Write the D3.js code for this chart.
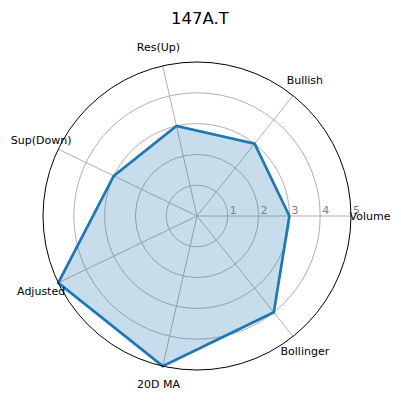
<!DOCTYPE html>
<html>
<head>
<meta charset="utf-8">
<script src="https://cdn.jsdelivr.net/npm/d3@7"></script>
<style>
  body { margin: 0; background: #fff; }
  text { font-family: "DejaVu Sans", sans-serif; }
</style>
</head>
<body>
<svg id="chart" width="401" height="401"></svg>
<script>
// values
const title = "147A.T";
const categories = ["Volume", "Bullish", "Res(Up)", "Sup(Down)", "Adjusted", "20D MA", "Bollinger"];
const scores = [3, 3, 3, 3, 5, 5, 4];
const radialTicks = [1, 2, 3, 4, 5];

const cx = 197, cy = 216, R = 154;
const svg = d3.select("#chart");

const r = d3.scaleLinear().domain([0, 5]).range([0, R]);
const angle = d3.scaleLinear().domain([0, categories.length]).range([0, 2 * Math.PI]);

// math angle (counter-clockwise from east) -> screen xy
function px(a, v) { return cx + r(v) * Math.cos(a); }
function py(a, v) { return cy - r(v) * Math.sin(a); }

svg.append("text")
  .attr("x", 200).attr("y", 24)
  .attr("text-anchor", "middle")
  .style("font-size", "16.5px")
  .text(title);

const g = svg.append("g");

// grid circles
g.selectAll("circle.grid")
  .data(radialTicks.slice(0, -1))
  .enter().append("circle")
  .attr("cx", cx).attr("cy", cy)
  .attr("r", d => r(d))
  .attr("fill", "none")
  .attr("stroke", "#b0b0b0")
  .attr("stroke-width", 1);

// spokes
g.selectAll("line.spoke")
  .data(categories)
  .enter().append("line")
  .attr("x1", cx).attr("y1", cy)
  .attr("x2", (d, i) => px(angle(i), 5))
  .attr("y2", (d, i) => py(angle(i), 5))
  .attr("stroke", "#b0b0b0")
  .attr("stroke-width", 1);

// data polygon
const pts = scores.map((v, i) => [px(angle(i), v), py(angle(i), v)]);
const line = d3.line().curve(d3.curveLinearClosed);

g.append("path")
  .attr("d", line(pts))
  .attr("fill", "#1f77b4")
  .attr("fill-opacity", 0.25)
  .attr("stroke", "none");

g.append("path")
  .attr("d", line(pts))
  .attr("fill", "none")
  .attr("stroke", "#1f77b4")
  .attr("stroke-width", 2.7)
  .attr("stroke-linejoin", "miter");

// outer spine
g.append("circle")
  .attr("cx", cx).attr("cy", cy).attr("r", R)
  .attr("fill", "none")
  .attr("stroke", "#000")
  .attr("stroke-width", 1);

// radial tick labels
g.selectAll("text.rtick")
  .data(radialTicks)
  .enter().append("text")
  .attr("x", d => cx + r(d) + 2)
  .attr("y", cy - 2)
  .attr("fill", "#808080")
  .style("font-size", "11px")
  .text(d => d);

// category labels
g.selectAll("text.cat")
  .data(categories)
  .enter().append("text")
  .attr("x", (d, i) => cx + (R + 19) * Math.cos(angle(i)))
  .attr("y", (d, i) => cy - (R + 19) * Math.sin(angle(i)))
  .attr("text-anchor", "middle")
  .attr("dominant-baseline", "central")
  .style("font-size", "11px")
  .text(d => d);
</script>
</body>
</html>
